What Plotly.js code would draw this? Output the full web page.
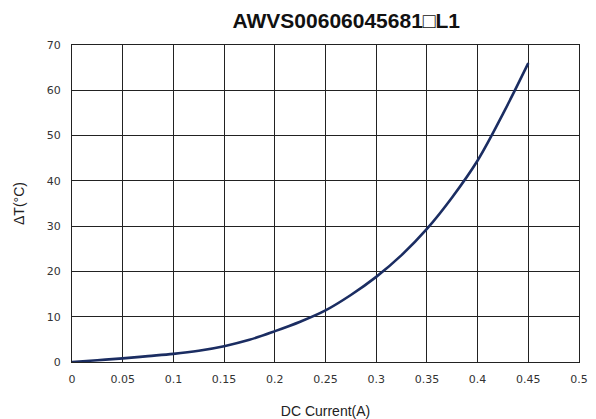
<!DOCTYPE html>
<html>
<head>
<meta charset="utf-8">
<script src="https://cdn.plot.ly/plotly-3.0.1.min.js"></script>
<style>html,body{margin:0;padding:0;background:#fff;}#chart{width:596px;height:419px;}</style>
</head>
<body>
<div id="chart"></div>
<script>
const current = [0, 0.025, 0.05, 0.075, 0.1, 0.125, 0.15, 0.175, 0.2, 0.225, 0.25, 0.275, 0.3, 0.325, 0.35, 0.375, 0.4, 0.425, 0.45];
const deltaT = [0, 0.4, 0.8, 1.3, 1.8, 2.5, 3.5, 4.9, 6.8, 8.9, 11.4, 14.8, 18.8, 23.6, 29.4, 36.4, 44.5, 54.8, 66.0];
const xTicks = [0, 0.05, 0.1, 0.15, 0.2, 0.25, 0.3, 0.35, 0.4, 0.45, 0.5];
const xTickText = ['0', '0.05', '0.1', '0.15', '0.2', '0.25', '0.3', '0.35', '0.4', '0.45', '0.5'];
const yTicks = [0, 10, 20, 30, 40, 50, 60, 70];
const titleText = 'AWVS00606045681\u25A1L1';

Plotly.newPlot('chart', [{
  x: current, y: deltaT, type: 'scatter', mode: 'lines',
  line: {color: '#1b2d62', width: 2.6, shape: 'spline', smoothing: 1},
  hoverinfo: 'none'
}], {
  width: 596, height: 419,
  margin: {l: 72, r: 17, t: 45, b: 57},
  paper_bgcolor: '#fff', plot_bgcolor: '#fff',
  showlegend: false,
  title: {text: titleText, x: 0.581, xanchor: 'center', y: 0.95, yanchor: 'middle',
    font: {family: 'Liberation Sans, Arial, sans-serif', size: 21, color: '#111', weight: 'bold'}},
  xaxis: {
    range: [0, 0.5], tickvals: xTicks, ticktext: xTickText, ticks: '',
    ticklabelstandoff: 7,
    showgrid: true, gridcolor: '#222', gridwidth: 1,
    showline: true, linecolor: '#222', linewidth: 1, mirror: true, zeroline: false,
    tickfont: {family: 'DejaVu Sans, sans-serif', size: 11, color: '#333'},
    title: {text: 'DC Current(A)', standoff: 20, font: {family: 'Liberation Sans, Arial, sans-serif', size: 14, color: '#222'}}
  },
  yaxis: {
    range: [0, 70], tickvals: yTicks, ticks: '',
    ticklabelstandoff: 8,
    showgrid: true, gridcolor: '#222', gridwidth: 1,
    showline: true, linecolor: '#222', linewidth: 1, mirror: true, zeroline: false,
    tickfont: {family: 'DejaVu Sans, sans-serif', size: 11, color: '#333'},
    title: {text: '\u0394T(\u00B0C)', standoff: 18, font: {family: 'Liberation Sans, Arial, sans-serif', size: 14, color: '#222'}}
  }
}, {staticPlot: true});
</script>
</body>
</html>
